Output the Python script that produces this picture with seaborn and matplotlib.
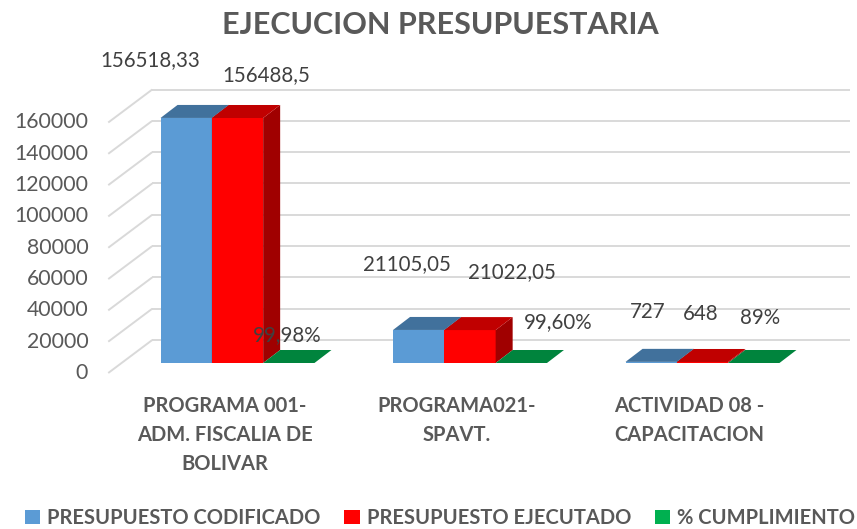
import matplotlib
matplotlib.use("Agg")
import matplotlib.pyplot as plt
from matplotlib.patches import Polygon
import seaborn as sns
import pandas as pd

# ---------------- data ----------------
categories = ["PROGRAMA 001-\nADM. FISCALIA DE\nBOLIVAR", "PROGRAMA021-\nSPAVT.", "ACTIVIDAD 08 -\nCAPACITACION"]
series = ["PRESUPUESTO CODIFICADO", "PRESUPUESTO EJECUTADO", "% CUMPLIMIENTO"]
codificado = [156518.33, 21105.05, 727]
ejecutado = [156488.5, 21022.05, 648]
cumplimiento = [0.9998, 0.9960, 0.89]
yticks = [0, 20000, 40000, 60000, 80000, 100000, 120000, 140000, 160000]

# ---------------- style ----------------
front_colors = ["#5B9BD5", "#FF0000", "#00B050"]
top_colors = ["#41719C", "#C00000", "#00843D"]
side_colors = ["#31577A", "#A00000", "#006630"]
grid_color = "#D9D9D9"
text_gray = "#595959"
label_gray = "#404040"
# data-label pixel offsets (dx, dy up) relative to bar top-front centre
label_offsets = [
    [(-36, 58), (-12, 66), (-4, 50)],
    [(29, 43), (42, 58), (-2, 48)],
    [(-2, 28), (37, 41), (6, 45)],
]

def fmt_num(v):
    s = ("%.2f" % v).rstrip("0").rstrip(".")
    return s.replace(".", ",")

def fmt_pct(v):
    p = round(v * 100, 2)
    if abs(p - round(p)) < 1e-9:
        return "%d%%" % round(p)
    return ("%.2f%%" % p).replace(".", ",")

df = pd.DataFrame({
    "cat": categories * 3,
    "serie": [series[0]] * 3 + [series[1]] * 3 + [series[2]] * 3,
    "val": codificado + ejecutado + cumplimiento,
})
label_texts = [[fmt_num(v) for v in codificado],
               [fmt_num(v) for v in ejecutado],
               [fmt_pct(v) for v in cumplimiento]]

sns.set_style("white")
plt.rcParams["font.family"] = ["Lato", "DejaVu Sans"]

W, H = 857, 529
fig = plt.figure(figsize=(W / 100, H / 100), dpi=100)
ax = fig.add_axes([121.25 / W, (H - 363) / H, 697.5 / W, 250.5 / H])

sns.barplot(data=df, x="cat", y="val", hue="serie", palette=front_colors,
            width=0.662, saturation=1, linewidth=0, ax=ax, legend=False,
            order=categories, hue_order=series)
ax.set_xlim(-0.5, 2.5)
ax.set_ylim(0, 160000)
ax.set_axis_off()

# pixel -> data conversions
x_per_px = 1.0 / (ax.transData.transform((1, 0))[0] - ax.transData.transform((0, 0))[0])
y_per_px = 1.0 / (ax.transData.transform((0, 1))[1] - ax.transData.transform((0, 0))[1])
px = lambda p: p * x_per_px
py = lambda p: p * y_per_px

ddx, ddy = px(17), py(13)      # bar depth
bdx, bdy = px(31), py(23)      # back wall offset
fdx, fdy = px(-13), py(-10)    # front plane offset

# gridlines on back wall and left wall
for v in yticks:
    ax.plot([-0.5 + bdx, 2.5 + bdx], [v + bdy, v + bdy], color=grid_color,
            lw=1.4, zorder=0.5, clip_on=False, solid_capstyle="butt")
    ax.plot([-0.5 + fdx, -0.5 + bdx], [v + fdy, v + bdy], color=grid_color,
            lw=1.4, zorder=0.5, clip_on=False, solid_capstyle="butt")
    ax.text(-0.5 + fdx - px(20), v + fdy, str(v), ha="right", va="center",
            fontsize=15.3, color=text_gray, clip_on=False)

# 3D faces
for i, cont in enumerate(ax.containers):
    for j, bar in enumerate(cont.patches):
        bar.set_zorder(3 + i)
        x0 = bar.get_x()
        x1 = x0 + bar.get_width()
        h = bar.get_height()
        side = Polygon([(x1, 0), (x1, h), (x1 + ddx, h + ddy), (x1 + ddx, ddy)],
                       closed=True, facecolor=side_colors[i], edgecolor="none",
                       zorder=3 + i, clip_on=False)
        top = Polygon([(x0, h), (x1, h), (x1 + ddx, h + ddy), (x0 + ddx, h + ddy)],
                      closed=True, facecolor=top_colors[i], edgecolor="none",
                      zorder=3 + i, clip_on=False)
        ax.add_patch(side)
        ax.add_patch(top)
        ox, oy = label_offsets[i][j]
        ax.text((x0 + x1) / 2 + px(ox), h + py(oy), label_texts[i][j],
                ha="center", va="center", fontsize=14.8, color=label_gray,
                zorder=10, clip_on=False)

# category labels
for k, c in enumerate(categories):
    ax.text(k + fdx, py(-33), c, ha="center", va="top", fontsize=14.5,
            fontweight="bold", color=text_gray, linespacing=1.56, clip_on=False)

# title
fig.text(440 / W, 1 - 25 / H, "EJECUCION PRESUPUESTARIA", ha="center", va="center",
         fontsize=22, fontweight="bold", color=text_gray)

# legend
handles = [cont.patches[0] for cont in ax.containers]
leg = fig.legend(handles, series, loc="center", bbox_to_anchor=(440 / W, 1 - 518 / H),
                 ncol=3, frameon=False, handlelength=0.75, handleheight=0.75,
                 handletextpad=0.35, columnspacing=1.2, borderaxespad=0,
                 prop={"family": ["Lato", "DejaVu Sans"], "weight": "bold", "size": 14.5})
for t in leg.get_texts():
    t.set_color(text_gray)

fig.savefig("out.png", dpi=100)
